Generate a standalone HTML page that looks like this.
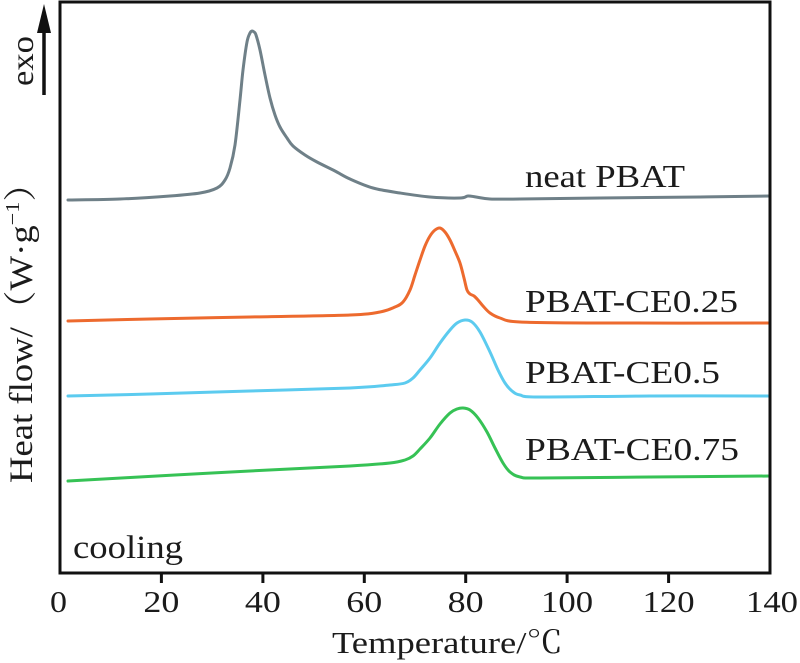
<!DOCTYPE html>
<html>
<head>
<meta charset="utf-8">
<style>
html,body{margin:0;padding:0;background:#fff;}
svg{display:block;}
text{font-family:"Liberation Serif","Noto Serif CJK SC",serif;fill:#1b1b1b;}
</style>
</head>
<body>
<svg id="chart" width="800" height="663" viewBox="0 0 800 663" xmlns="http://www.w3.org/2000/svg">
<rect width="800" height="663" fill="#fff"/>

<!-- curves -->
<g id="curves" fill="none" stroke-width="3" stroke-linejoin="round" stroke-linecap="round">
<polyline stroke="#6f8088" points="68,200 120,199 170,196 200,193 217,188 225,180 230,168 235,145 240,100 243,70 247,42 250,33 252,31 254,32 256,35 260,50 265,75 270,98 275,115 280,127 287,138 293,146 305,155 317,162 335,171 350,179 373,188 400,193 430,197 460,198 468,196 476,197 490,199 520,199 600,198 700,197 770,196"/>
<polyline stroke="#ed6a2e" points="68,321 150,319 250,317 350,315 380,312 395,307 403,302 410,290 415,275 420,260 425,246 430,236 435,230 440,228 445,232 450,240 455,251 460,263 464,278 467,290 470,294 474,296 478,300 483,306 490,313 500,318 520,322 600,323 770,323"/>
<polyline stroke="#5ccbef" points="68,396 150,394 250,391 350,388 390,385 405,383 413,378 420,370 430,358 440,343 450,330 457,323 465,320 472,322 480,332 490,352 498,370 505,383 512,391 520,395 540,397 650,396 770,396"/>
<polyline stroke="#36c255" points="68,481 175,475 250,471 350,466 390,463 405,460 413,456 420,449 430,438 440,424 450,413 457,409 463,408 470,410 478,418 487,432 495,448 503,463 510,472 520,477 540,478 650,477 770,476"/>
</g>

<!-- axes frame -->
<rect x="60" y="2" width="710" height="571" fill="none" stroke="#111" stroke-width="3"/>
<!-- ticks -->
<g stroke="#111" stroke-width="3">
<line x1="161.4" y1="573" x2="161.4" y2="583"/>
<line x1="262.9" y1="573" x2="262.9" y2="583"/>
<line x1="364.3" y1="573" x2="364.3" y2="583"/>
<line x1="465.7" y1="573" x2="465.7" y2="583"/>
<line x1="567.1" y1="573" x2="567.1" y2="583"/>
<line x1="668.6" y1="573" x2="668.6" y2="583"/>
</g>

<!-- tick labels -->
<g font-size="31" text-anchor="middle">
<text x="58.5" y="612" textLength="17" lengthAdjust="spacingAndGlyphs">0</text>
<text x="161.4" y="612" textLength="36" lengthAdjust="spacingAndGlyphs">20</text>
<text x="262.9" y="612" textLength="36" lengthAdjust="spacingAndGlyphs">40</text>
<text x="364.3" y="612" textLength="36" lengthAdjust="spacingAndGlyphs">60</text>
<text x="465.7" y="612" textLength="36" lengthAdjust="spacingAndGlyphs">80</text>
<text x="567.1" y="612" textLength="52" lengthAdjust="spacingAndGlyphs">100</text>
<text x="668.6" y="612" textLength="52" lengthAdjust="spacingAndGlyphs">120</text>
<text x="772" y="612" textLength="52" lengthAdjust="spacingAndGlyphs">140</text>
</g>

<!-- x axis title -->
<text x="332" y="653" font-size="31" textLength="231" lengthAdjust="spacingAndGlyphs">Temperature/℃</text>

<!-- y axis title -->
<text transform="rotate(-90)" x="-483" y="32" font-size="33" textLength="318" lengthAdjust="spacingAndGlyphs">Heat flow/（W·g<tspan font-size="20" dy="-13">−1</tspan><tspan dy="13">）</tspan></text>

<!-- exo arrow -->
<line x1="44" y1="95" x2="44" y2="28" stroke="#111" stroke-width="3.5"/>
<polygon points="44,4 37,33 51,33" fill="#111"/>
<text transform="rotate(-90)" x="-86" y="33" font-size="32" textLength="50" lengthAdjust="spacingAndGlyphs">exo</text>

<!-- cooling -->
<text x="73" y="558" font-size="33" textLength="110" lengthAdjust="spacingAndGlyphs">cooling</text>

<!-- series labels -->
<g font-size="32">
<text x="525" y="187" textLength="160" lengthAdjust="spacingAndGlyphs">neat PBAT</text>
<text x="525" y="312" textLength="213" lengthAdjust="spacingAndGlyphs">PBAT-CE0.25</text>
<text x="525" y="383" textLength="195" lengthAdjust="spacingAndGlyphs">PBAT-CE0.5</text>
<text x="525" y="460" textLength="214" lengthAdjust="spacingAndGlyphs">PBAT-CE0.75</text>
</g>
</svg>
<script>
(function(){
  var NS="http://www.w3.org/2000/svg";
  var g=document.getElementById("curves");
  var pls=Array.prototype.slice.call(g.getElementsByTagName("polyline"));
  pls.forEach(function(pl){
    var pts=pl.getAttribute("points").trim().split(/\s+/).map(function(s){var a=s.split(",");return [parseFloat(a[0]),parseFloat(a[1])];});
    var d="M"+pts[0][0]+","+pts[0][1];
    for(var i=0;i<pts.length-1;i++){
      var p0=pts[i>0?i-1:i],p1=pts[i],p2=pts[i+1],p3=pts[i+2<pts.length?i+2:i+1];
      var t=1/6;
      var c1x=p1[0]+(p2[0]-p0[0])*t,c1y=p1[1]+(p2[1]-p0[1])*t;
      var c2x=p2[0]-(p3[0]-p1[0])*t,c2y=p2[1]-(p3[1]-p1[1])*t;
      d+=" C"+c1x.toFixed(2)+","+c1y.toFixed(2)+" "+c2x.toFixed(2)+","+c2y.toFixed(2)+" "+p2[0]+","+p2[1];
    }
    var p=document.createElementNS(NS,"path");
    p.setAttribute("d",d);
    p.setAttribute("stroke",pl.getAttribute("stroke"));
    g.replaceChild(p,pl);
  });
})();
</script>
</body>
</html>
